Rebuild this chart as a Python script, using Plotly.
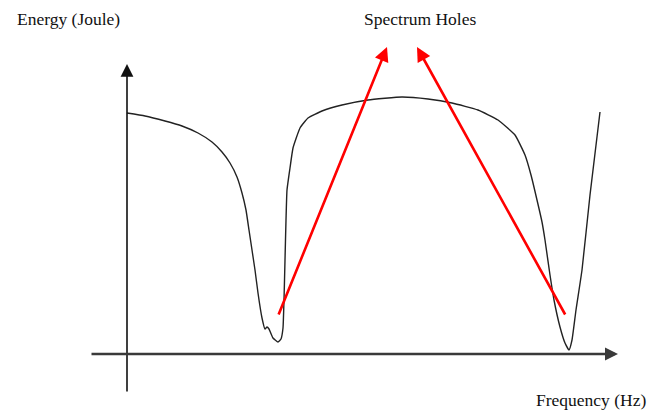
import plotly.graph_objects as go

curve_x = [127, 145, 165, 182, 198, 212, 222, 230, 237, 242, 246, 249, 252, 255, 258,
           262, 265, 267, 269, 273, 278, 281, 283, 284, 285, 286, 287, 290, 293, 300,
           308, 322, 342, 368, 402, 428, 452, 478, 498, 515, 525, 531, 537, 542, 545,
           550, 554, 560, 565, 569, 572, 576, 582, 590, 600]
curve_y = [113, 116, 121, 126, 133, 142, 152, 163, 177, 193, 210, 230, 250, 270, 293,
           318, 329, 327, 329, 338, 342, 339, 328, 300, 260, 220, 190, 168, 148, 128,
           118, 111, 105, 100, 97, 99, 103, 110, 120, 135, 155, 175, 200, 222, 240,
           275, 300, 327, 343, 350, 340, 310, 270, 195, 112]

# axes: (tail, tip)
axis_lines = [((127, 393), (127, 64)), ((90, 354), (618, 354))]
# red pointers: (tail, tip)
hole_arrows = [((278, 316), (387, 47)), ((566, 316), (417, 47))]

labels = ['Energy (Joule)', 'Spectrum Holes', 'Frequency (Hz)']
label_pos = [(15, 19), (362, 19), (534, 400)]

fig = go.Figure()
fig.add_trace(go.Scatter(x=curve_x, y=curve_y, mode='lines',
                         line=dict(color='#222222', width=1.4, shape='spline', smoothing=0.4),
                         hoverinfo='skip', showlegend=False))

for (tail, tip), w, col in zip(axis_lines, [1.6, 2.6], ['#111111', '#3a3a3a']):
    fig.add_annotation(x=tip[0], y=tip[1], ax=tail[0], ay=tail[1],
                       xref='x', yref='y', axref='x', ayref='y',
                       showarrow=True, arrowhead=2, arrowsize=1.6 if w < 2 else 1.0,
                       arrowwidth=w, arrowcolor=col, standoff=0, text='')

for tail, tip in hole_arrows:
    fig.add_annotation(x=tip[0], y=tip[1], ax=tail[0], ay=tail[1],
                       xref='x', yref='y', axref='x', ayref='y',
                       showarrow=True, arrowhead=2, arrowsize=1.1,
                       arrowwidth=2.6, arrowcolor='#ff0000', standoff=0, text='')

for txt, (px, py) in zip(labels, label_pos):
    fig.add_annotation(x=px, y=py, xref='x', yref='y', text=txt, showarrow=False,
                       xanchor='left', yanchor='middle',
                       font=dict(family='Liberation Serif', size=17.5, color='#111111'))

fig.update_xaxes(range=[0, 659], visible=False, fixedrange=True)
fig.update_yaxes(range=[410, 0], visible=False, fixedrange=True)
fig.update_layout(width=659, height=410, margin=dict(l=0, r=0, t=0, b=0),
                  plot_bgcolor='white', paper_bgcolor='white')

fig.write_html("out.html", config={'displayModeBar': False},
               post_script="document.body.style.margin='0';")
